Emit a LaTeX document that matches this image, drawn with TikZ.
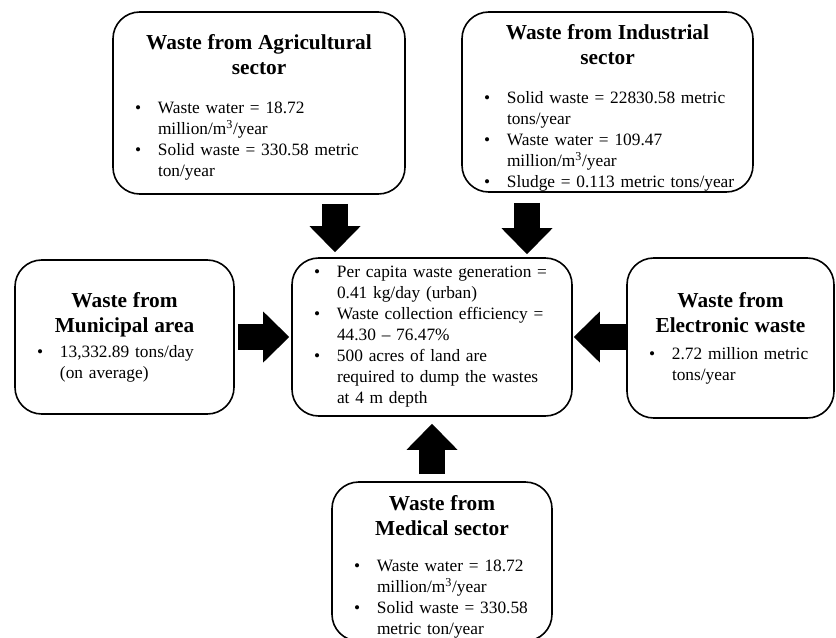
\documentclass[tikz,border=0pt]{standalone}
\usepackage{fontspec}
\setmainfont{Liberation Serif}
\usetikzlibrary{arrows.meta,calc}
\tikzset{
  wastebox/.style={draw,line width=1.2pt,rounded corners=20pt,inner xsep=6pt,inner ysep=0pt,
    align=left,font=\fontsize{13}{15.75}\selectfont},
  bigarrow/.style={line width=19.5pt,-{Triangle[length=19.5pt,width=38.25pt,line width=0pt]}}
}
\newcommand{\boxhead}[3][0pt]{{\centering\fontsize{16}{18.75}\selectfont\bfseries\rule{0pt}{\dimexpr 12pt+#1\relax}#2\par}\vspace{#3}}
\newcommand{\bitem}[1]{{\leftskip=10.5pt\hangindent=17.25pt\hangafter=1\noindent\makebox[17.25pt][l]{\textbullet}#1\par}}

\begin{document}
\begin{tikzpicture}[x=0.75pt,y=-0.75pt]
    \useasboundingbox (0,0) rectangle (836,637);
    \node[wastebox,minimum width=219pt,minimum height=136.5pt,text width=207pt] (agri) at (259,103) {
      \boxhead[6pt]{Waste from Agricultural\\sector}{13pt}
      \bitem{Waste water = 18.72\newline million/m\textsuperscript{3}/year}
      \bitem{Solid waste = 330.58 metric\newline ton/year}};
    \node[wastebox,minimum width=218.25pt,minimum height=135pt,text width=206.25pt] (indus) at (607.5,102) {
      \boxhead[8pt]{Waste from Industrial\\sector}{13.5pt}
      \bitem{Solid waste = 22830.58 metric\newline tons/year}
      \bitem{Waste water = 109.47\newline million/m\textsuperscript{3}/year}
      \bitem{Sludge = 0.113 metric tons/year}};
    \node[wastebox,minimum width=164.25pt,minimum height=115.5pt,text width=152.25pt] (muni) at (124.5,337) {
      \boxhead{Waste from\\Municipal area}{3pt}
      \bitem{13,332.89 tons/day\newline (on average)}};
    \node[wastebox,minimum width=210pt,minimum height=118.5pt,text width=198pt] (core) at (432,337) {
      \bitem{Per capita waste generation =\newline 0.41 kg/day (urban)}
      \bitem{Waste collection efficiency =\newline 44.30 -- 76.47\%}
      \bitem{500 acres of land are\newline required to dump the wastes\newline at 4 m depth}};
    \node[wastebox,minimum width=155.25pt,minimum height=120pt,text width=143.25pt] (elec) at (730.5,338) {
      \boxhead{Waste from\\Electronic waste}{4.5pt}
      \bitem{2.72 million metric\newline tons/year}};
    \node[wastebox,minimum width=165pt,minimum height=119.25pt,text width=153pt] (med) at (442,561.5) {
      \boxhead[7.5pt]{Waste from\\Medical sector}{11pt}
      \bitem{Waste water = 18.72\newline million/m\textsuperscript{3}/year}
      \bitem{Solid waste = 330.58\newline metric ton/year}};
    \coordinate (inL) at ($(core.north)+(-97,0)$);
    \coordinate (inR) at ($(core.north)+(95,0)$);
    \draw[bigarrow,shorten <=6.75pt,shorten >=3.75pt] (agri.south -| inL) -- (inL);
    \draw[bigarrow,shorten <=7.5pt,shorten >=2.25pt] (indus.south -| inR) -- (inR);
    \draw[bigarrow,shorten <=2.25pt,shorten >=1.5pt] (muni.east) -- (core.west);
    \draw[bigarrow,shorten >=0.75pt] (elec.west |- core.east) -- (core.east);
    \draw[bigarrow,shorten <=5.25pt,shorten >=5.25pt] (med.north -| core.south) -- (core.south);
\end{tikzpicture}
\end{document}
